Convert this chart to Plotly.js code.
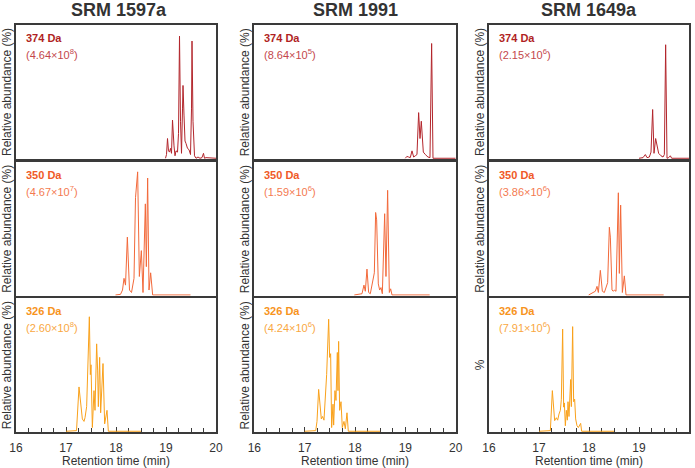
<!DOCTYPE html>
<html>
<head>
<meta charset="utf-8">
<script src="https://cdn.plot.ly/plotly-3.0.1.min.js"></script>
<style>
  html, body { margin: 0; padding: 0; background: #ffffff; }
  #chart { width: 695px; height: 468px; }
</style>
</head>
<body>
<div id="chart"></div>
<script>
// Extracted-ion chromatograms of three PAH reference materials
const samples = ['SRM 1597a', 'SRM 1991', 'SRM 1649a'];
const ions = ['374 Da', '350 Da', '326 Da'];
// base-peak intensities, [sample][ion] as mantissa / exponent
const intensityMantissa = [['4.64', '4.67', '2.60'], ['8.64', '1.59', '4.24'], ['2.15', '3.86', '7.91']];
const intensityExponent = [['8', '7', '8'], ['5', '6', '6'], ['6', '6', '6']];
const xTickVals = [16, 17, 18, 19, 20];

// SRM 1597a
const rt_1597a_374 = [18.99, 19.01, 19.03, 19.05, 19.07, 19.09, 19.11, 19.13, 19.16, 19.18, 19.20, 19.23, 19.25, 19.27, 19.29, 19.31, 19.33, 19.34, 19.36, 19.38, 19.40, 19.43, 19.46, 19.49, 19.51, 19.52, 19.54, 19.57, 19.60, 19.64, 19.68, 19.72, 19.75, 19.77, 19.80, 20.0];
const ab_1597a_374 = [0, 3, 16, 6, 5, 8, 4, 31, 10, 2, 6, 5, 20, 99, 30, 4, 40, 59, 35, 14, 12, 8, 7, 3, 40, 95, 30, 2, 0, 1, 0, 0.5, 4, 0, 0.5, 0];
const rt_1597a_350 = [17.99, 18.09, 18.13, 18.16, 18.19, 18.227, 18.27, 18.31, 18.36, 18.39, 18.433, 18.467, 18.507, 18.54, 18.587, 18.607, 18.633, 18.66, 18.693, 18.733, 19.49];
const ab_1597a_350 = [0, 0.5, 4, 13.5, 8, 47, 4, 2, 13.5, 79, 100, 15, 36, 2, 74, 23, 95, 4, 18, 0, 0];
const rt_1597a_326 = [17.0, 17.21, 17.26, 17.327, 17.36, 17.38, 17.413, 17.44, 17.467, 17.487, 17.5, 17.527, 17.56, 17.58, 17.613, 17.633, 17.647, 17.673, 17.693, 17.74, 17.773, 17.82, 17.847, 18.5];
const ab_1597a_326 = [0, 0.5, 36, 10, 8, 11, 20, 49, 93, 46, 54, 3, 33, 17, 71, 49, 20, 60, 15, 55, 6, 17, 0, 0];

// SRM 1991
const rt_1991_374 = [19.0, 19.03, 19.065, 19.098, 19.132, 19.165, 19.198, 19.231, 19.264, 19.291, 19.317, 19.357, 19.397, 19.449, 19.489, 19.522, 19.549, 20.0];
const ab_1991_374 = [0, 1.5, 1, 0.5, 6, 1, 2, 3, 37, 16, 30, 5, 3, 1, 0.5, 93, 0, 0];
const rt_1991_350 = [17.986, 18.139, 18.178, 18.205, 18.238, 18.271, 18.304, 18.357, 18.384, 18.41, 18.43, 18.463, 18.49, 18.516, 18.543, 18.589, 18.615, 18.648, 18.682, 18.708, 18.735, 19.483];
const ab_1991_350 = [0, 1, 8, 3, 21, 2, 1, 12, 18, 67, 61, 9, 4, 6, 1, 66, 15, 85, 2, 5, 0, 0];
const rt_1991_326 = [17.0, 17.22, 17.245, 17.278, 17.331, 17.357, 17.384, 17.41, 17.437, 17.477, 17.496, 17.516, 17.536, 17.563, 17.576, 17.602, 17.622, 17.649, 17.662, 17.675, 17.695, 17.722, 17.748, 17.781, 17.808, 17.841, 17.867, 18.5];
const ab_1991_326 = [0, 0.5, 8, 34, 10, 12, 9, 25, 46, 91, 60, 63, 3, 22, 5, 33, 25, 64, 33, 73, 17, 24, 3, 8, 2, 15, 0, 0];

// SRM 1649a
const rt_1649a_374 = [19.0, 19.08, 19.127, 19.16, 19.207, 19.24, 19.273, 19.3, 19.333, 19.36, 19.393, 19.44, 19.48, 19.507, 19.533, 19.56, 19.593, 19.627, 19.653, 20.0];
const ab_1649a_374 = [0, 0.5, 3, 0.5, 1, 5, 39.5, 4, 16, 11, 4, 2, 1, 3, 92, 0, 0.5, 2, 0, 0];
const rt_1649a_350 = [17.993, 18.127, 18.16, 18.187, 18.227, 18.267, 18.307, 18.34, 18.373, 18.407, 18.427, 18.46, 18.487, 18.507, 18.54, 18.587, 18.607, 18.633, 18.667, 18.707, 18.74, 19.493];
const ab_1649a_350 = [0, 3, 7, 2, 20, 3, 2, 7, 10, 55, 47, 4, 3, 4, 3, 83, 17.5, 73, 2, 15.5, 0, 0];
const rt_1649a_326 = [17.0, 17.227, 17.267, 17.313, 17.347, 17.373, 17.4, 17.427, 17.447, 17.473, 17.493, 17.507, 17.527, 17.547, 17.567, 17.58, 17.6, 17.613, 17.633, 17.647, 17.673, 17.693, 17.713, 17.733, 17.76, 17.787, 17.833, 17.853, 18.5];
const ab_1649a_326 = [0, 0.5, 33, 8.6, 11, 9, 14, 17, 26, 83, 19.6, 23, 4.5, 17, 9, 24, 12, 24, 42, 20, 85, 24, 26, 10, 4.5, 3, 6.4, 0, 0];

const traceTimes = [[rt_1597a_374, rt_1597a_350, rt_1597a_326], [rt_1991_374, rt_1991_350, rt_1991_326], [rt_1649a_374, rt_1649a_350, rt_1649a_326]];
const traceAbund = [[ab_1597a_374, ab_1597a_350, ab_1597a_326], [ab_1991_374, ab_1991_350, ab_1991_326], [ab_1649a_374, ab_1649a_350, ab_1649a_326]];

// styling per ion row
const lineColors = ['#b3262c', '#f2693a', '#f9a11b'];
const labelColors = ['#b01f24', '#f05a28', '#f7941d'];
const valueColors = ['#c4474b', '#f47a50', '#f9a83f'];

// figure geometry, in pixels
const W = 695, H = 468;
const colX = [[16, 216], [254.3, 455.7], [489, 689]];
const rowY = [[25, 159], [162, 295.7], [298.3, 432]];
const px = x => x / W;
const py = y => 1 - y / H;
const FONT = 'Arial, "Liberation Sans", sans-serif';

const data = [];
const layout = {
  width: W, height: H,
  margin: {l: 0, r: 0, t: 0, b: 0},
  paper_bgcolor: '#ffffff',
  plot_bgcolor: '#ffffff',
  showlegend: false,
  font: {family: FONT, color: '#333333', size: 12},
  annotations: []
};

for (let c = 0; c < 3; c++) {
  for (let r = 0; r < 3; r++) {
    const idx = r * 3 + c + 1;
    const sfx = idx === 1 ? '' : String(idx);
    data.push({
      type: 'scatter', mode: 'lines',
      x: traceTimes[c][r], y: traceAbund[c][r],
      xaxis: 'x' + sfx, yaxis: 'y' + sfx,
      line: {color: lineColors[r], width: 1},
      hoverinfo: 'skip'
    });
    const bottom = r === 2;
    layout['xaxis' + sfx] = {
      domain: [px(colX[c][0]), px(colX[c][1])],
      anchor: 'y' + sfx,
      range: [16, 20],
      showgrid: false, zeroline: false,
      showline: true, mirror: true, linecolor: '#3a3a3a', linewidth: 2,
      ticks: bottom ? 'inside' : '',
      tickmode: 'array', tickvals: bottom ? xTickVals : [],
      ticklen: 5, tickwidth: 1, tickcolor: '#3a3a3a',
      showticklabels: bottom,
      ticklabelstandoff: 4,
      tickfont: {family: FONT, size: 12, color: '#333333'},
      minor: bottom ? {dtick: 0.25, tick0: 16, ticks: 'inside', ticklen: 4, tickwidth: 1, tickcolor: '#3a3a3a'} : undefined,
      fixedrange: true,
      layer: 'below traces'
    };
    layout['yaxis' + sfx] = {
      domain: [py(rowY[r][1]), py(rowY[r][0])],
      anchor: 'x' + sfx,
      range: [-0.6, 108],
      showgrid: false, zeroline: false,
      showline: true, mirror: true, linecolor: '#3a3a3a', linewidth: 2,
      ticks: '', showticklabels: false,
      fixedrange: true,
      layer: 'below traces'
    };

    // ion label and base-peak intensity
    layout.annotations.push({
      xref: 'paper', yref: 'paper',
      x: px(colX[c][0] + 8), y: py(rowY[r][0] + 13),
      xanchor: 'left', yanchor: 'middle', showarrow: false,
      text: '<b>' + ions[r] + '</b>',
      font: {family: FONT, size: 11, color: labelColors[r]}
    });
    layout.annotations.push({
      xref: 'paper', yref: 'paper',
      x: px(colX[c][0] + 8), y: py(rowY[r][0] + 28.5),
      xanchor: 'left', yanchor: 'middle', showarrow: false,
      text: '(' + intensityMantissa[c][r] + '×10<sup>' + intensityExponent[c][r] + '</sup>)',
      font: {family: FONT, size: 11, color: valueColors[r]}
    });

    // y-axis caption
    const yTitle = (c === 2 && r === 2) ? '%' : 'Relative abundance (%)';
    layout.annotations.push({
      xref: 'paper', yref: 'paper',
      x: px(colX[c][0] - 9), y: py((rowY[r][0] + rowY[r][1]) / 2),
      xanchor: 'center', yanchor: 'middle', showarrow: false,
      textangle: -90,
      text: yTitle,
      font: {family: FONT, size: 12, color: '#333333'}
    });
  }

  // column heading
  layout.annotations.push({
    xref: 'paper', yref: 'paper',
    x: px((colX[c][0] + colX[c][1]) / 2 + (c === 0 ? 3 : 0)), y: py(10),
    xanchor: 'center', yanchor: 'middle', showarrow: false,
    text: '<b>' + samples[c] + '</b>',
    font: {family: FONT, size: 18, color: '#333333'}
  });
  // x-axis caption
  layout.annotations.push({
    xref: 'paper', yref: 'paper',
    x: px((colX[c][0] + colX[c][1]) / 2), y: py(461),
    xanchor: 'center', yanchor: 'middle', showarrow: false,
    text: 'Retention time (min)',
    font: {family: FONT, size: 12, color: '#333333'}
  });
}

Plotly.newPlot('chart', data, layout, {staticPlot: true, displayModeBar: false});
</script>
</body>
</html>
